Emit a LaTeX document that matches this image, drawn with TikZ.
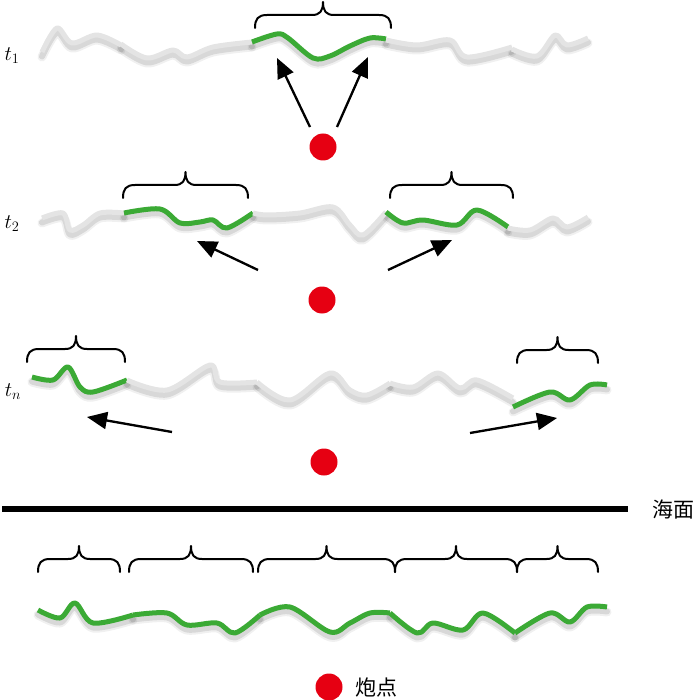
\documentclass[tikz,border=0pt]{standalone}
\usepackage{fontspec}
\newfontfamily\cjk{Noto Sans CJK SC}
\usetikzlibrary{arrows.meta}
\definecolor{wgray}{HTML}{E4E4E4}
\definecolor{wgreen}{HTML}{3BAA35}
\definecolor{dotred}{HTML}{E60012}
\tikzset{
  shadA/.style={line width=9pt, black, opacity=0.06, yshift=-5pt, line cap=round, line join=round},
  shadB/.style={line width=6pt, black, opacity=0.10, yshift=-4.5pt, line cap=round, line join=round},
  graywave/.style={line width=5pt, wgray, line join=round},
  greenwave/.style={line width=5pt, wgreen, line join=round},
  bracestyle/.style={line width=2pt, black, line cap=round, line join=round},
  arr/.style={line width=2.3pt, black, -{Triangle[length=20pt,width=17pt]}},
  arrshad/.style={line width=2.3pt, black, opacity=0.12, yshift=-3pt, -{Triangle[length=20pt,width=17pt]}},
  shot/.style={circle, fill=dotred, inner sep=0pt, minimum size=27pt},
  tlabel/.style={font=\fontsize{21}{21}\selectfont, inner sep=0pt},
  cjklabel/.style={font=\cjk\fontsize{21}{21}\selectfont, inner sep=0pt}
}
\newcommand{\seg}[2]{\def\tmpdraw{\draw[#1] plot[smooth,tension=.55] coordinates}\expandafter\tmpdraw\expandafter{#2};}
\newcommand{\wshadow}[1]{\seg{shadA}{#1}\seg{shadB}{#1}}
\newcommand{\hbrace}[3]{%
  \pgfmathsetmacro\bm{(#1+#2)/2}%
  \draw[bracestyle] (#1,#3) .. controls (#1,{#3-9}) and ({#1+3},{#3-13}) .. ({#1+12},{#3-13})
    -- ({\bm-11},{#3-13}) .. controls ({\bm-3},{#3-13}) and (\bm,{#3-17}) .. (\bm,{#3-26})
    .. controls (\bm,{#3-17}) and ({\bm+3},{#3-13}) .. ({\bm+11},{#3-13})
    -- ({#2-12},{#3-13}) .. controls ({#2-3},{#3-13}) and (#2,{#3-9}) .. (#2,#3);}
% wave data
\def\Aa{(42,52) (57,28) (72,43) (97,35) (121,45)}
\def\Ab{(121,44) (147,58) (173,50) (187,57) (213,47) (252,42)}
\def\Ac{(252,42) (277,34) (288,38) (313,58) (330,56) (350,46) (370,38) (386,39)}
\def\Ad{(386,40) (417,45) (450,40) (467,57) (512,47)}
\def\Ae{(512,49) (537,56) (555,35) (567,45) (588,38)}
\def\Ba{(42,218) (63,213) (70,230) (83,225) (100,213) (124,213)}
\def\Bb{(124,213) (160,209) (180,223) (200,222) (213,220) (227,228) (253,213)}
\def\Bc{(253,213) (267,215) (300,213) (333,207) (350,225) (363,235) (386,212)}
\def\Bd{(386,212) (403,223) (423,220) (457,225) (477,210) (508,227)}
\def\Be{(508,228) (530,230) (553,218) (567,227) (588,217)}
\def\Ca{(32,377) (53,380) (68,367) (80,387) (93,392) (127,380)}
\def\Cb{(127,380) (167,390) (210,365) (220,382) (257,382)}
\def\Cc{(257,382) (290,400) (330,373) (350,390) (367,395) (390,383)}
\def\Cd{(390,383) (413,387) (438,373) (460,388) (477,380) (513,398)}
\def\Ce{(513,407) (550,392) (570,400) (590,385) (607,385)}
\def\Da{(38,610) (60,618) (75,603) (93,623) (133,615)}
\def\Db{(133,615) (167,613) (187,625) (217,623) (235,633) (260,615)}
\def\Dc{(260,615) (290,607) (330,632) (350,623) (370,613) (390,613)}
\def\Dd{(390,613) (417,633) (433,623) (463,630) (483,613) (515,633)}
\def\De{(515,633) (550,613) (570,622) (587,607) (607,607)}
\begin{document}
\begin{tikzpicture}[x=1pt,y=-1pt]
\useasboundingbox (0,0) rectangle (700,700);
% shadows
\wshadow{\Aa}\wshadow{\Ab}\wshadow{\Ac}\wshadow{\Ad}\wshadow{\Ae}
\wshadow{\Ba}\wshadow{\Bb}\wshadow{\Bc}\wshadow{\Bd}\wshadow{\Be}
\wshadow{\Ca}\wshadow{\Cb}\wshadow{\Cc}\wshadow{\Cd}\wshadow{\Ce}
\wshadow{\Da}\wshadow{\Db}\wshadow{\Dc}\wshadow{\Dd}\wshadow{\De}
% row t1
\seg{graywave}{\Aa}\seg{graywave}{\Ab}\seg{greenwave}{\Ac}\seg{graywave}{\Ad}\seg{graywave}{\Ae}
% row t2
\seg{graywave}{\Ba}\seg{greenwave}{\Bb}\seg{graywave}{\Bc}\seg{greenwave}{\Bd}\seg{graywave}{\Be}
% row tn
\seg{greenwave}{\Ca}\seg{graywave}{\Cb}\seg{graywave}{\Cc}\seg{graywave}{\Cd}\seg{greenwave}{\Ce}
% bottom
\seg{greenwave}{\Da}\seg{greenwave}{\Db}\seg{greenwave}{\Dc}\seg{greenwave}{\Dd}\seg{greenwave}{\De}
% braces
\hbrace{255}{391}{28}
\hbrace{123}{248}{198}
\hbrace{390}{513}{198}
\hbrace{27}{125}{362}
\hbrace{517}{598}{363}
\hbrace{38}{120}{572}
\hbrace{129}{253}{572}
\hbrace{258}{395}{572}
\hbrace{395}{517}{572}
\hbrace{517}{598}{572}
% labels
\node[tlabel] (t1) at (12,56) {$t_1$};
\node[tlabel] (t2) at (12,224) {$t_2$};
\node[tlabel] (tn) at (13,392) {$t_n$};
% shot points
\node[shot] (s1) at (323,147) {};
\node[shot] (s2) at (322,300) {};
\node[shot] (s3) at (324,462) {};
\node[shot] (s4) at (329,687) {};
\node[cjklabel, anchor=west] (pl) at (355,687) {炮点};
% arrows
\coordinate (a1s) at (310,127); \coordinate (a1e) at (277,58);
\coordinate (a2s) at (337,127); \coordinate (a2e) at (368,57);
\coordinate (b1s) at (258,270); \coordinate (b1e) at (197,241);
\coordinate (b2s) at (388,270); \coordinate (b2e) at (452,240);
\coordinate (c1s) at (172,432); \coordinate (c1e) at (87,417);
\coordinate (c2s) at (470,433); \coordinate (c2e) at (557,418);
\foreach \s/\e in {a1s/a1e,a2s/a2e,b1s/b1e,b2s/b2e,c1s/c1e,c2s/c2e}{
  \draw[arrshad] (\s) -- (\e);
  \draw[arr] (\s) -- (\e);
}
% sea surface
\coordinate (seaL) at (2,509);
\coordinate (seaR) at (628,509);
\draw[line width=6pt] (seaL) -- (seaR);
\node[cjklabel, anchor=west] (sea) at (652,510) {海面};
\end{tikzpicture}
\end{document}
